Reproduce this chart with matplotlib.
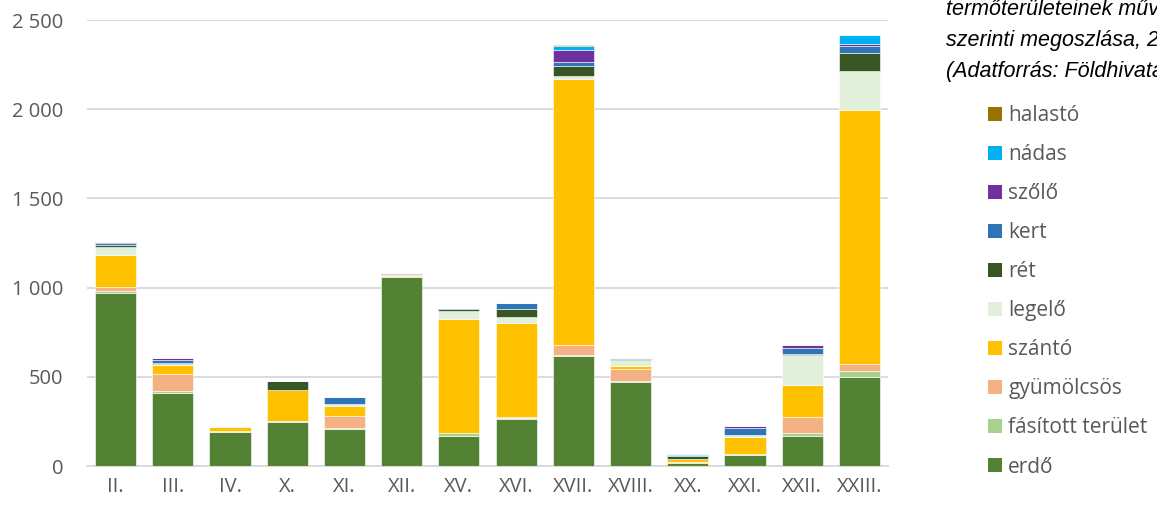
import matplotlib
matplotlib.use("Agg")
import matplotlib.pyplot as plt
from matplotlib.patches import Patch
import numpy as np

plt.rcParams['font.family'] = ['Open Sans', 'DejaVu Sans']

categories = ["II.", "III.", "IV.", "X.", "XI.", "XII.", "XV.", "XVI.", "XVII.",
              "XVIII.", "XX.", "XXI.", "XXII.", "XXIII."]

series_names = ["erdő", "fásított terület", "gyümölcsös", "szántó", "legelő",
                "rét", "kert", "szőlő", "nádas", "halastó"]

erdo        = [971, 407, 188, 245, 209, 1061, 168, 265, 618, 473, 19, 63, 170, 501]
fasitott    = [10, 15, 4, 5, 3, 5, 15, 3, 5, 5, 3, 3, 17, 31]
gyumolcsos  = [20, 92, 3, 2, 68, 7, 2, 4, 53, 64, 2, 3, 89, 40]
szanto      = [182, 52, 25, 172, 56, 3, 637, 531, 1493, 18, 13, 96, 180, 1422]
legelo      = [46, 6, 2, 3, 9, 1, 45, 30, 19, 34, 2, 6, 168, 222]
ret         = [8, 3, 0, 47, 2, 3, 15, 49, 56, 5, 17, 1, 5, 101]
kert        = [11, 18, 1, 1, 38, 0, 2, 32, 22, 5, 5, 39, 31, 37]
szolo       = [6, 10, 0, 0, 3, 0, 0, 2, 66, 1, 0, 11, 18, 13]
nadas       = [2, 0, 0, 0, 0, 0, 0, 0, 24, 0, 8, 0, 0, 49]
halasto     = [0, 0, 0, 0, 0, 0, 0, 0, 4, 0, 0, 0, 0, 0]

series = [erdo, fasitott, gyumolcsos, szanto, legelo, ret, kert, szolo, nadas, halasto]
colors = ["#548235", "#A9D18E", "#F4B183", "#FFC000", "#E2EFDA",
          "#375623", "#2E75B6", "#7030A0", "#00B0F0", "#997300"]

yticks = [0, 500, 1000, 1500, 2000, 2500]
ytick_labels = ["0", "500", "1 000", "1 500", "2 000", "2 500"]

title_lines = ["termőterületeinek művelési ág",
               "szerinti megoszlása, 2013",
               "(Adatforrás: Földhivatal)"]

fig = plt.figure(figsize=(11.57, 5.08), dpi=100)
ax = fig.add_axes([87/1157, 42/508, 801/1157, 446/508])

x = np.arange(len(categories))
bottom = np.zeros(len(categories))
for vals, col in zip(series, colors):
    v = np.array(vals, dtype=float)
    ax.bar(x, v, bottom=bottom, width=0.72, color=col, edgecolor="white",
           linewidth=0.4, zorder=3)
    bottom += v

ax.set_xlim(-0.5, len(categories) - 0.5)
ax.set_ylim(0, 2500)
ax.set_yticks(yticks)
ax.set_yticklabels(ytick_labels)
ax.set_xticks(x)
ax.set_xticklabels(categories)
ax.yaxis.grid(True, color="#D9D9D9", linewidth=1.3, zorder=0)
ax.set_axisbelow(True)
for s in ["top", "right", "left"]:
    ax.spines[s].set_visible(False)
ax.spines["bottom"].set_color("#D9D9D9")
ax.spines["bottom"].set_linewidth(1.3)
ax.tick_params(axis="both", length=0, labelsize=14.5, colors="#595959")
ax.tick_params(axis="y", pad=17)
ax.tick_params(axis="x", pad=8)

handles = [Patch(facecolor=c, edgecolor="none") for c in colors][::-1]
labels = series_names[::-1]
fig.legend(handles, labels, loc="upper left", bbox_to_anchor=(980/1157, 1 - 97/508),
           frameon=False, fontsize=15, handlelength=0.67, handleheight=0.67,
           handletextpad=0.29, labelspacing=0.865, labelcolor="#595959", borderaxespad=0)

for i, line in enumerate(title_lines):
    fig.text(946/1157, 1 - (10 + 30.5 * i)/508, line,
             ha="left", va="center", fontsize=15.5, style="italic", color="#000000",
             family=["Liberation Sans", "DejaVu Sans"])

fig.savefig("out.png", dpi=100)
